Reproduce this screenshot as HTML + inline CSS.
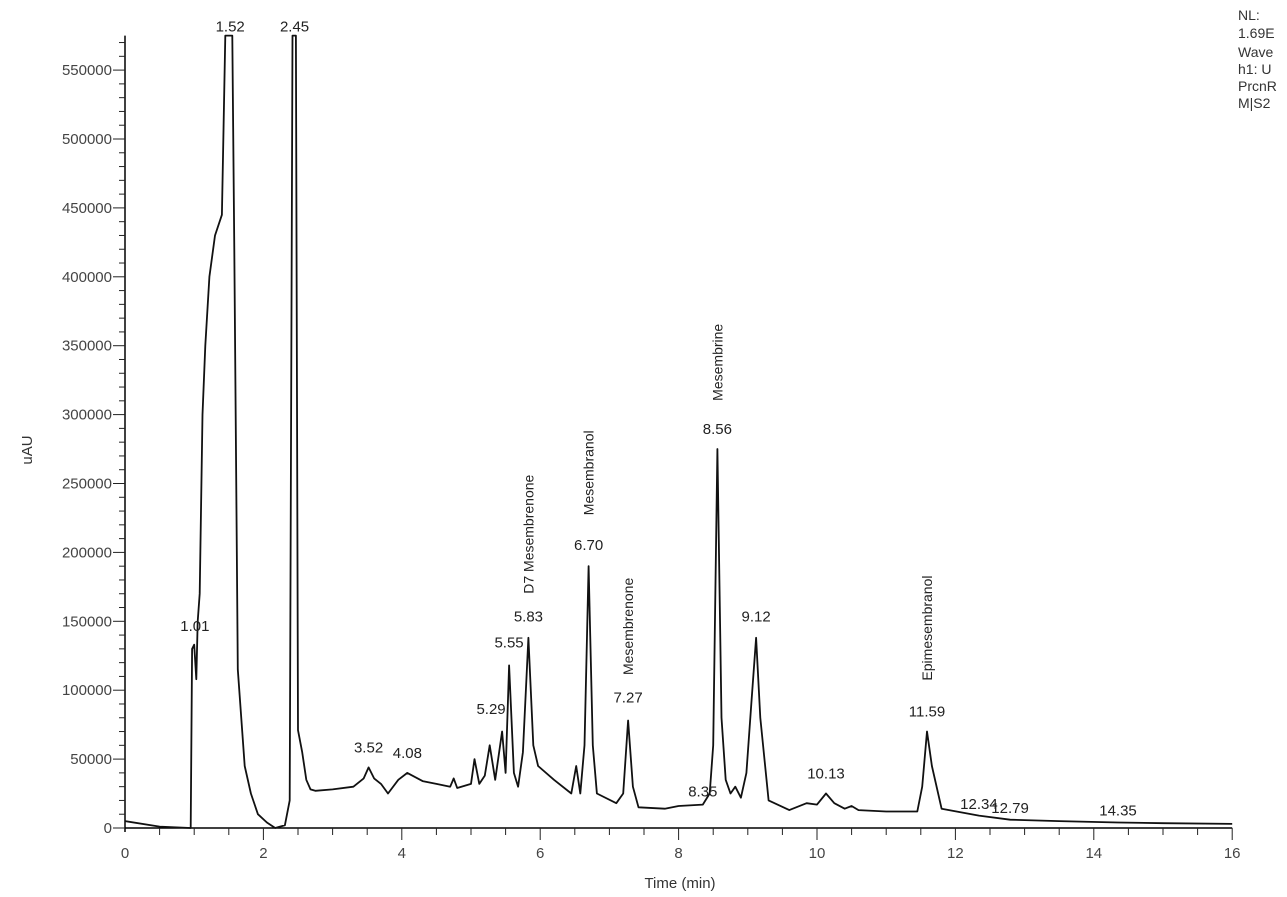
<!DOCTYPE html>
<html><head><meta charset="utf-8">
<style>
html,body{margin:0;padding:0;background:#fff;}
svg{display:block;font-family:"Liberation Sans",sans-serif;}
</style></head>
<body>
<svg id="chart" width="1287" height="897" viewBox="0 0 1287 897">
<g id="axes"></g>
<g id="trace"></g>
<g id="labels"></g>
<text x="32" y="450" font-size="15" fill="#333" transform="rotate(-90 32 450)" text-anchor="middle">uAU</text>
<text x="680" y="888" font-size="15" fill="#333" text-anchor="middle">Time (min)</text>
<g font-size="14" fill="#333">
<text x="1238" y="20">NL:</text>
<text x="1238" y="38">1.69E</text>
<text x="1238" y="57">Wave</text>
<text x="1238" y="74">h1: U</text>
<text x="1238" y="91">PrcnR</text>
<text x="1238" y="108">M|S2</text>
</g>
</svg>
<script>
const times = [0,0.5,0.95,0.97,1.0,1.03,1.05,1.08,1.12,1.16,1.22,1.3,1.4,1.45,1.47,1.55,1.58,1.63,1.73,1.82,1.92,2.05,2.17,2.31,2.38,2.42,2.45,2.47,2.5,2.56,2.62,2.68,2.75,3.0,3.3,3.45,3.52,3.6,3.7,3.8,3.95,4.08,4.3,4.5,4.7,4.75,4.8,5.0,5.05,5.12,5.2,5.27,5.35,5.45,5.5,5.55,5.62,5.68,5.75,5.83,5.9,5.97,6.2,6.45,6.52,6.58,6.64,6.7,6.76,6.82,7.1,7.2,7.27,7.34,7.42,7.8,8.0,8.35,8.45,8.5,8.56,8.62,8.68,8.75,8.82,8.9,8.98,9.05,9.12,9.18,9.3,9.6,9.85,10.0,10.13,10.25,10.4,10.5,10.6,11.0,11.45,11.52,11.59,11.66,11.8,12.34,12.79,13.5,14.35,15,16];
const values = [5000,1000,0,130000,133000,108000,150000,170000,300000,350000,400000,430000,445000,600000,600000,600000,420000,115000,45000,25000,10000,4000,0,2000,20000,600000,600000,600000,71000,55000,35000,28000,27000,28000,30000,36000,44000,36000,32000,25000,35000,40000,34000,32000,30000,36000,29000,32000,50000,32000,38000,60000,35000,70000,40000,118000,40000,30000,55000,138000,60000,45000,35000,25000,45000,25000,60000,190000,60000,25000,18000,25000,78000,30000,15000,14000,16000,17000,25000,60000,275000,80000,35000,25000,30000,22000,40000,90000,138000,80000,20000,13000,18000,17000,25000,18000,14000,16000,13000,12000,12000,30000,70000,45000,14000,9000,6000,5000,4000,3500,3000];
const yTicks = [0,50000,100000,150000,200000,250000,300000,350000,400000,450000,500000,550000];
const xTicks = [0,2,4,6,8,10,12,14,16];
const peakTimes = [1.01,1.52,2.45,3.52,4.08,5.29,5.55,5.83,6.70,7.27,8.35,8.56,9.12,10.13,11.59,12.34,12.79,14.35];
const peakLabels = ["1.01","1.52","2.45","3.52","4.08","5.29","5.55","5.83","6.70","7.27","8.35","8.56","9.12","10.13","11.59","12.34","12.79","14.35"];
const peakHeights = [140000,577000,577000,52000,48000,80000,128000,147000,199000,88000,20000,283000,147000,33000,78000,11000,8000,6000];
const compoundTimes = [5.83,6.70,7.27,8.56,11.59];
const compoundNames = ["D7 Mesembrenone","Mesembranol","Mesembrenone","Mesembrine","Epimesembranol"];
const compoundBase = [170000,227000,111000,310000,107000];

const X0=125, XS=69.2, Y0=828, YS=68.9/50000, YMAX=575000;
const xp = t => X0 + t*XS;
const yp = v => Y0 - Math.min(v,YMAX)*YS;
const NS="http://www.w3.org/2000/svg";
function mk(tag, parent){const e=document.createElementNS(NS,tag);parent.appendChild(e);return e;}

const axes=document.getElementById('axes');
const ya=mk('line',axes);


ya.setAttribute('x1',X0);ya.setAttribute('x2',X0);ya.setAttribute('y1',yp(YMAX));ya.setAttribute('y2',Y0+4);ya.setAttribute('stroke','#000');ya.setAttribute('stroke-width','1.5');
const xa=mk('line',axes);


xa.setAttribute('x1',X0);xa.setAttribute('x2',xp(16));xa.setAttribute('y1',Y0);xa.setAttribute('y2',Y0);xa.setAttribute('stroke','#000');xa.setAttribute('stroke-width','1.5');
for(let v=0; v<=570000; v+=10000){
  const l=mk('line',axes);
  
  
  const major = v%50000===0;
  l.setAttribute('x1',X0-(major?12:6));l.setAttribute('x2',X0);l.setAttribute('y1',yp(v));l.setAttribute('y2',yp(v));l.setAttribute('stroke','#222');
}
yTicks.forEach(v=>{
  const t=mk('text',axes);
  
  
  t.setAttribute('x',X0-13);t.setAttribute('y',yp(v)+5);t.setAttribute('text-anchor','end');t.setAttribute('font-size','15');t.setAttribute('fill','#444');
  t.textContent=v;
});
for(let t=0.5; t<=16; t+=0.5){
  const l=mk('line',axes);
  
  
  const major=t%2===0;
  l.setAttribute('x1',xp(t));l.setAttribute('x2',xp(t));l.setAttribute('y1',Y0);l.setAttribute('y2',Y0+(major?12:7));l.setAttribute('stroke','#222');
}
xTicks.forEach(v=>{
  const t=mk('text',axes);
  
  
  t.setAttribute('x',xp(v));t.setAttribute('y',Y0+30);t.setAttribute('text-anchor','middle');t.setAttribute('font-size','15');t.setAttribute('fill','#444');
  t.textContent=v;
});

const trace=document.getElementById('trace');
const p=mk('path',trace);


p.setAttribute('d',times.map((t,i)=>(i?'L':'M')+xp(t).toFixed(1)+' '+yp(values[i]).toFixed(1)).join(' '));
p.setAttribute('fill','none');p.setAttribute('stroke','#111');p.setAttribute('stroke-width','1.8');p.setAttribute('stroke-linejoin','round');

const labels=document.getElementById('labels');
peakTimes.forEach((t,i)=>{
  const e=mk('text',labels);
  
  
  e.setAttribute('x',xp(t));e.setAttribute('y',yp(peakHeights[i])-4);e.setAttribute('text-anchor','middle');e.setAttribute('font-size','15');e.setAttribute('fill','#222');
  e.textContent=peakLabels[i];
});
compoundTimes.forEach((t,i)=>{
  const e=mk('text',labels);
  
  
  const x=xp(t)+5, y=yp(compoundBase[i]);
  e.setAttribute('x',x);e.setAttribute('y',y);e.setAttribute('font-size','14');e.setAttribute('fill','#222');
  e.setAttribute('transform','rotate(-90 '+x+' '+y+')');
  e.textContent=compoundNames[i];
});
</script>
</body></html>
